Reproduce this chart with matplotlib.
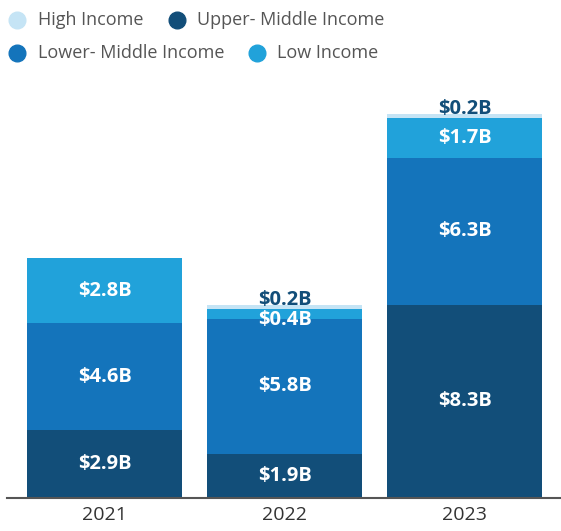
import matplotlib.pyplot as plt
from matplotlib.lines import Line2D
import numpy as np

plt.rcParams['font.family'] = ['Open Sans', 'DejaVu Sans']

years = ['2021', '2022', '2023']
upper_middle = [2.9, 1.9, 8.3]
lower_middle = [4.6, 5.8, 6.3]
low = [2.8, 0.4, 1.7]
high = [0.0, 0.2, 0.2]

series_names = ['High Income', 'Upper- Middle Income', 'Lower- Middle Income', 'Low Income']
c_high = '#c5e4f5'
c_upper = '#124e79'
c_lower = '#1474bb'
c_low = '#21a2da'

fig = plt.figure(figsize=(5.61, 5.31), dpi=100)
ax = fig.add_axes([0.0125, 0.0621, 0.9875, 0.759])

x = np.arange(len(years))
w = 0.86
lbl_size = 14.5
stack = [(upper_middle, c_upper), (lower_middle, c_lower), (low, c_low), (high, c_high)]
bottom = np.zeros(len(years))
for vals, col in stack:
    vals = np.array(vals)
    ax.bar(x, vals, w, bottom=bottom, color=col, linewidth=0)
    for i, v in enumerate(vals):
        if v <= 0:
            continue
        yc = bottom[i] + v / 2
        if col == c_high:
            ax.annotate(f'${v:.1f}B', (x[i], bottom[i] + v), xytext=(0, 3), textcoords='offset points',
                        ha='center', va='center', color=c_upper, fontsize=lbl_size, fontweight='bold')
        elif v < 1:
            ax.annotate(f'${v:.1f}B', (x[i], yc), xytext=(0, -4.5), textcoords='offset points',
                        ha='center', va='center', color='white', fontsize=lbl_size, fontweight='bold')
        else:
            ax.text(x[i], yc, f'${v:.1f}B', ha='center', va='center', color='white',
                    fontsize=lbl_size, fontweight='bold')
    bottom = bottom + vals

ax.set_xlim(-0.542, 2.536)
ax.set_ylim(0, 17.3)
ax.set_yticks([])
ax.set_xticks(x)
ax.set_xticklabels(years, fontsize=14, color='#333333')
ax.tick_params(axis='x', length=0, pad=6)
for s in ['top', 'right', 'left']:
    ax.spines[s].set_visible(False)
ax.spines['bottom'].set_color('#555555')
ax.spines['bottom'].set_linewidth(1.5)

# legend laid out in two rows like the original
legend_items = [
    (17, 20, 38, series_names[0], c_high),
    (177, 20, 197, series_names[1], c_upper),
    (17, 53, 38, series_names[2], c_lower),
    (257, 53, 277, series_names[3], c_low),
]
W, H = 561, 531
for mx, my, tx, label, col in legend_items:
    fig.add_artist(Line2D([mx / W], [1 - my / H], marker='o', markersize=12, color=col,
                          linestyle='none', transform=fig.transFigure))
    fig.text(tx / W, 1 - my / H, label, fontsize=13, color='#555555', va='center', ha='left')

fig.savefig('out.png', dpi=100)
